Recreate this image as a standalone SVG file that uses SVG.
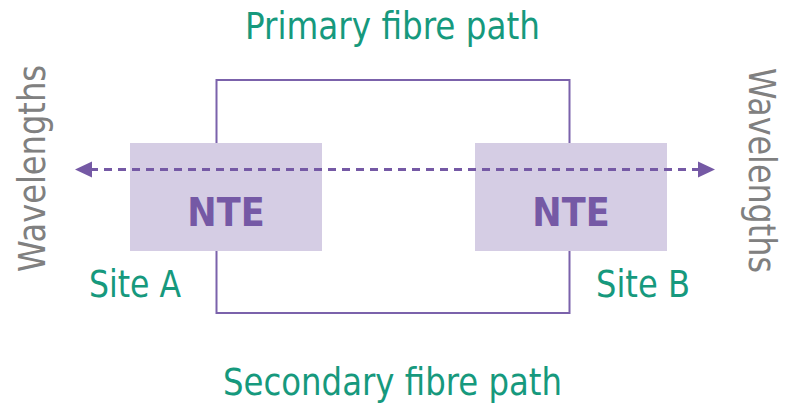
<svg xmlns="http://www.w3.org/2000/svg" width="785" height="403" viewBox="0 0 785 403">
  <defs>
    <style>
      .box { fill: #d5cde4; }
      .fibre { fill: none; stroke: #7b62ab; stroke-width: 2; }
      .wave { fill: none; stroke: #7559a5; stroke-width: 2.8; stroke-dasharray: 8 6; }
      .head { fill: #7559a5; }
      .nte { font-family: "DejaVu Sans Condensed", "DejaVu Sans", sans-serif; font-stretch: condensed; font-weight: bold; font-size: 39px; fill: #7559a5; text-anchor: middle; }
      .lbl { font-family: "DejaVu Sans Condensed", "DejaVu Sans", sans-serif; font-stretch: condensed; font-size: 37px; fill: #16997d; }
      .side { font-family: "DejaVu Sans Condensed", "DejaVu Sans", sans-serif; font-stretch: condensed; font-size: 37px; fill: #808080; text-anchor: middle; }
    </style>
  </defs>

  <!-- fibre paths between the two sites -->
  <g id="connectors">
    <path class="fibre" d="M216.5 143 V80 H569.5 V143"/>
    <path class="fibre" d="M216.5 251 V313 H569.5 V251"/>
  </g>

  <g id="nte-a">
    <rect class="box" x="130" y="143" width="192" height="108"/>
    <text class="nte" x="226" y="226">NTE</text>
  </g>

  <g id="nte-b">
    <rect class="box" x="475" y="143" width="192" height="108"/>
    <text class="nte" x="571" y="226">NTE</text>
  </g>

  <!-- wavelength flow through both NTEs -->
  <g id="wavelengths">
    <line class="wave" x1="90" y1="169.5" x2="700" y2="169.5"/>
    <polygon class="head" points="75,169.5 92,161.5 92,177.5"/>
    <polygon class="head" points="715,169.5 698,161.5 698,177.5"/>
  </g>

  <g id="labels">
    <text class="lbl" x="392.5" y="39" text-anchor="middle" textLength="295" lengthAdjust="spacingAndGlyphs">Primary fibre path</text>
    <text class="lbl" x="392.5" y="395" text-anchor="middle" textLength="339" lengthAdjust="spacingAndGlyphs">Secondary fibre path</text>
    <text class="lbl" x="89" y="297" textLength="92" lengthAdjust="spacingAndGlyphs">Site A</text>
    <text class="lbl" x="596" y="297" textLength="94" lengthAdjust="spacingAndGlyphs">Site B</text>
    <text class="side" transform="translate(45 168.5) rotate(-90)" textLength="207" lengthAdjust="spacingAndGlyphs">Wavelengths</text>
    <text class="side" transform="translate(749 170.5) rotate(90)" textLength="205" lengthAdjust="spacingAndGlyphs">Wavelengths</text>
  </g>
</svg>
